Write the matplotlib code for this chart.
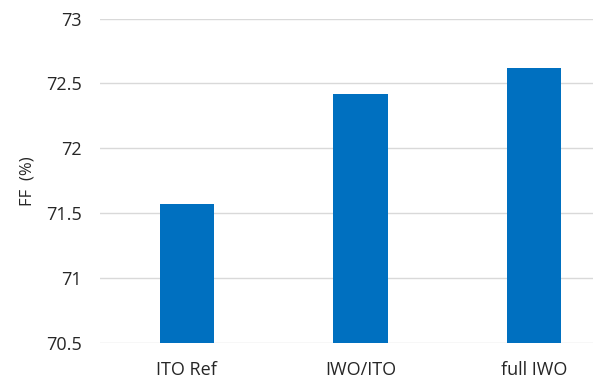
import matplotlib
matplotlib.use("Agg")
import matplotlib.pyplot as plt

labels = ["ITO Ref", "IWO/ITO", "full IWO"]
ff = [71.57, 72.42, 72.62]
yticks = [70.5, 71, 71.5, 72, 72.5, 73]
ytick_labels = ["70.5", "71", "71.5", "72", "72.5", "73"]

plt.rcParams['font.family'] = ['Open Sans', 'DejaVu Sans']

fig = plt.figure(figsize=(5.93, 3.84), dpi=100)
# plot area runs past the right edge of the figure
ax = fig.add_axes([100 / 593, 41 / 384, 521 / 593, 324.5 / 384])

x = range(len(labels))
ax.bar(x, [v - 70.5 for v in ff], bottom=70.5, width=0.314, color='#0070C0', zorder=3)

ax.set_xlim(-0.5, 2.5)
ax.set_ylim(70.5, 73)
ax.set_yticks(yticks)
ax.set_yticklabels(ytick_labels)
ax.set_xticks(list(x))
ax.set_xticklabels(labels)
ax.yaxis.grid(True, color='#d9d9d9', linewidth=1.0, zorder=0)
ax.set_axisbelow(True)
for s in ax.spines.values():
    s.set_visible(False)
ax.tick_params(axis='y', length=0, pad=13, labelsize=13, colors='#262626')
ax.tick_params(axis='x', length=0, pad=13, labelsize=13, colors='#262626')
ax.set_ylabel("FF  (%)", fontsize=12, color='#262626', labelpad=8)

fig.savefig("out.png", dpi=100)
